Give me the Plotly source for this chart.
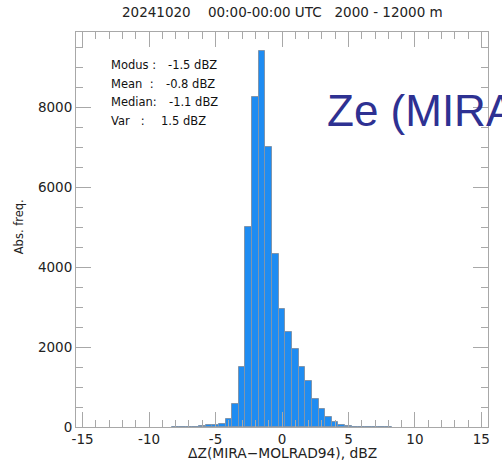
import plotly.graph_objects as go

# ---- data ----
bin_centers = [-8.0, -7.5, -7.0, -6.5, -6.0, -5.5, -5.0, -4.5, -4.0, -3.5, -3.0, -2.5,
               -2.0, -1.5, -1.0, -0.5, 0.0, 0.5, 1.0, 1.5, 2.0, 2.5, 3.0, 3.5,
               4.0, 4.5, 5.0, 5.5, 6.0, 6.5, 7.0, 7.5, 8.0]
counts = [3, 5, 8, 12, 18, 40, 60, 65, 200, 575, 1490, 5010,
          8250, 9415, 7000, 4330, 2960, 2380, 1940, 1510, 1150, 690, 460, 240,
          125, 55, 20, 10, 6, 4, 3, 2, 1]
bin_width = 0.5

stat_names = ["Modus :", "Mean\u00a0\u00a0:", "Median:", "Var\u00a0\u00a0\u00a0:"]
stat_values = ["-1.5 dBZ", "-0.8 dBZ", "-1.1 dBZ", "1.5 dBZ"]

title_text = "20241020\u00a0\u00a0\u00a0\u00a000:00-00:00 UTC\u00a0\u00a0\u00a02000 - 12000 m"
x_title = "\u0394Z(MIRA\u2212MOLRAD94), dBZ"
y_title = "Abs. freq."
overlay_text = "Ze (MIRA \u2013 MOLRAD94)"

x_ticks = [-15, -10, -5, 0, 5, 10, 15]
x_tick_labels = ["-15", "-10", "-5", "0", "5", "10", "15"]
y_ticks = [0, 2000, 4000, 6000, 8000]
y_tick_labels = ["0", "2000", "4000", "6000", "8000"]

FONT = "DejaVu Sans"
AXC = "#a8a8a8"

fig = go.Figure()
fig.add_trace(go.Bar(
    x=bin_centers, y=counts, width=[bin_width] * len(bin_centers),
    marker=dict(color="#1e8cf2", line=dict(color="#7f95ad", width=1)),
    showlegend=False,
))

W, H = 502, 463
L, R, T, B = 76, 12, 32, 36
pw, ph = W - L - R, H - T - B


def px(xp):
    return (xp - L) / pw


def py(yp):
    return (H - B - yp) / ph


def note(text, x, y, size, xanchor="center", family=FONT, color="#222", angle=0):
    return dict(text=text, x=px(x), y=py(y), xref="paper", yref="paper",
                xanchor=xanchor, yanchor="middle", showarrow=False, textangle=angle,
                font=dict(family=family, size=size, color=color))


ann = []
ann.append(note(title_text, 284, 12, 13.5))
ann.append(note(x_title, 283, 453, 13.8))
ann.append(note(y_title, 19, 227, 11.5, angle=-90))

ys = [65, 84, 102.5, 121]
vx = [166.5, 164, 167.5, 159]
for i in range(4):
    ann.append(note(stat_names[i], 109, ys[i], 11.5, xanchor="left", color="#111"))
    ann.append(note(stat_values[i], vx[i], ys[i], 11.5, xanchor="left", color="#111"))

ann.append(note(overlay_text, 326, 111, 44, xanchor="left", family="Liberation Sans",
                color="#2e3192"))

fig.update_layout(
    width=W, height=H,
    margin=dict(l=L, r=R, t=T, b=B, pad=0),
    paper_bgcolor="white", plot_bgcolor="white",
    bargap=0,
    annotations=ann,
    font=dict(family=FONT, size=13, color="#222"),
)
fig.update_xaxes(
    range=[-15.5, 15.5], tickvals=x_ticks, ticktext=x_tick_labels,
    ticks="inside", ticklen=15, tickcolor=AXC,
    tickwidth=1, showline=True, linecolor=AXC, linewidth=1, mirror="allticks",
    showgrid=False, zeroline=False,
    minor=dict(dtick=1, ticks="inside", ticklen=7, tickcolor=AXC, showgrid=False),
    tickfont=dict(family=FONT, size=13.5, color="#222"),
)
fig.update_yaxes(
    range=[0, 9880], tickvals=y_ticks, ticktext=y_tick_labels,
    ticks="inside", ticklen=15, tickcolor=AXC,
    tickwidth=1, showline=True, linecolor=AXC, linewidth=1, mirror="allticks",
    showgrid=False, zeroline=False,
    minor=dict(dtick=500, ticks="inside", ticklen=7, tickcolor=AXC, showgrid=False),
    tickfont=dict(family=FONT, size=13.5, color="#222"),
)

fig.write_html("out.html")
